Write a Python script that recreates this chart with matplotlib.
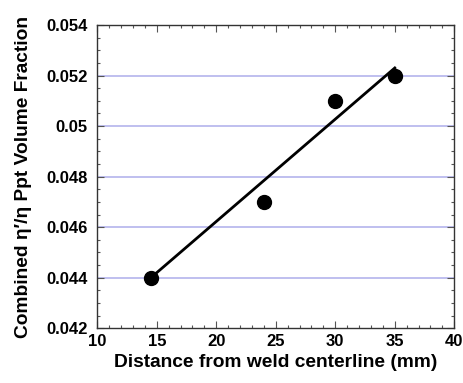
import matplotlib
matplotlib.use("Agg")
import matplotlib.pyplot as plt
from matplotlib.ticker import MultipleLocator

plt.rcParams['font.family'] = ['Liberation Sans', 'DejaVu Sans']
plt.rcParams['font.weight'] = 'bold'

# measured points
distance = [14.5, 24, 30, 35]
vol_frac = [0.044, 0.047, 0.051, 0.052]

# trend line endpoints
fit_x = [14.5, 35]
fit_y = [0.0440, 0.0523]

x_ticks = [10, 15, 20, 25, 30, 35, 40]
y_ticks = [0.042, 0.044, 0.046, 0.048, 0.05, 0.052, 0.054]
y_labels = ['0.042', '0.044', '0.046', '0.048', '0.05', '0.052', '0.054']

fig = plt.figure(figsize=(4.64, 3.83), dpi=100)
left, right, top, bottom = 97.3, 454.3, 25, 328.3
ax = fig.add_axes([left / 464, 1 - bottom / 383, (right - left) / 464, (bottom - top) / 383])

# horizontal grid lines (inner only)
for y in y_ticks[1:-1]:
    ax.axhline(y, color='#b4b4ec', lw=1.2, zorder=1)

ax.plot(fit_x, fit_y, color='black', lw=2.0, zorder=2)
ax.plot(distance, vol_frac, 'o', color='black', ms=10, zorder=3)

ax.set_xlim(10, 40)
ax.set_ylim(0.042, 0.054)
ax.set_xticks(x_ticks)
ax.set_yticks(y_ticks)
ax.set_yticklabels(y_labels)
ax.xaxis.set_minor_locator(MultipleLocator(1))
ax.yaxis.set_minor_locator(MultipleLocator(0.0005))

ax.tick_params(which='both', direction='in', top=True, right=True, labelsize=12, color='#555555')
ax.tick_params(which='major', length=5, width=0.8)
ax.tick_params(which='minor', length=2.5, width=0.8)
ax.tick_params(axis='x', which='major', pad=4)
ax.tick_params(axis='y', which='major', pad=7)
for lbl in ax.get_xticklabels() + ax.get_yticklabels():
    lbl.set_fontweight('bold')
for s in ax.spines.values():
    s.set_color('#333333')
    s.set_linewidth(1.0)

ax.set_xlabel('Distance from weld centerline (mm)', fontsize=13.8, fontweight='bold', labelpad=4)
ax.set_ylabel('Combined η\u2032/η Ppt Volume Fraction', fontsize=13.8, fontweight='bold', labelpad=10)

fig.savefig('out.png', dpi=100)
